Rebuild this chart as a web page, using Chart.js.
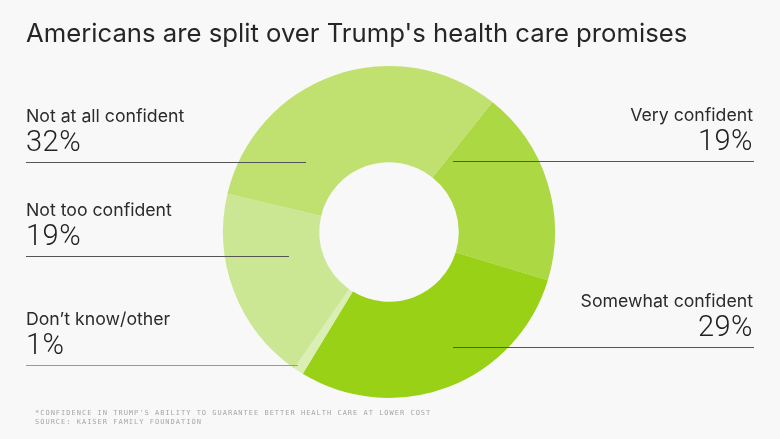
<!DOCTYPE html>
<html>
<head>
<meta charset="utf-8">
<script src="https://cdn.jsdelivr.net/npm/chart.js@4/dist/chart.umd.min.js"></script>
<style>
  html, body { margin: 0; padding: 0; background: #f8f8f8; }
  #wrap { width: 780px; height: 439px; position: relative; }
</style>
</head>
<body>
<div id="wrap"><canvas id="chart" width="780" height="439"></canvas></div>
<script>
// ─── DATOS ────────────────────────────────────────────────────────────────
const titulo = "Americans are split over Trump's health care promises";
const categorias = ["Very confident", "Somewhat confident", "Don’t know/other", "Not too confident", "Not at all confident"];
const porcentajes = [19, 29, 1, 19, 32];
const colores = ["#acd843", "#98d116", "#dbeeb4", "#cce793", "#c0e170"];
const notas = [
  "*CONFIDENCE IN TRUMP'S ABILITY TO GUARANTEE BETTER HEALTH CARE AT LOWER COST",
  "SOURCE: KAISER FAMILY FOUNDATION"
];

// posición de cada rótulo (lado, línea base del nombre, extremo de la línea guía)
const rotulos = [
  { lado: "der", y: 121, fin: 453, linea: "#555" },
  { lado: "der", y: 307, fin: 453, linea: "#555" },
  { lado: "izq", y: 325, fin: 298, linea: "#999" },
  { lado: "izq", y: 216, fin: 289, linea: "#555" },
  { lado: "izq", y: 122, fin: 306, linea: "#555" }
];

// ─── PLUGIN DE TEXTOS ─────────────────────────────────────────────────────
const textos = {
  id: "textos",
  beforeDraw(chart) {
    const ctx = chart.ctx;
    ctx.save();
    ctx.fillStyle = "#f8f8f8";
    ctx.fillRect(0, 0, chart.width, chart.height);
    ctx.restore();
  },
  afterDraw(chart) {
    const ctx = chart.ctx;
    ctx.save();
    ctx.textBaseline = "alphabetic";

    // título
    ctx.fillStyle = "#262626";
    ctx.font = "25.7px Inter, 'Liberation Sans', sans-serif";
    ctx.textAlign = "left";
    ctx.fillText(titulo, 26, 42);

    // rótulos y líneas guía
    categorias.forEach((cat, i) => {
      const r = rotulos[i];
      const izq = r.lado === "izq";
      const x = izq ? 26 : 753;
      ctx.textAlign = izq ? "left" : "right";
      ctx.fillStyle = "#2b2b2b";
      ctx.font = "17.7px Inter, 'Liberation Sans', sans-serif";
      ctx.fillText(cat, x, r.y);
      ctx.font = "300 29px Roboto, 'Liberation Sans', sans-serif";
      ctx.fillStyle = "#222";
      ctx.letterSpacing = "0.5px";
      ctx.fillText(porcentajes[i] + "%", x, r.y + 29);
      ctx.letterSpacing = "0px";

      const ly = Math.round(r.y + 40) + 0.5;
      ctx.strokeStyle = r.linea;
      ctx.lineWidth = 1;
      ctx.beginPath();
      ctx.moveTo(izq ? 26 : r.fin, ly);
      ctx.lineTo(izq ? r.fin : 754, ly);
      ctx.stroke();
    });

    // notas al pie
    ctx.textAlign = "left";
    ctx.fillStyle = "#a6a6a6";
    ctx.font = "7px 'DejaVu Sans Mono', monospace";
    ctx.letterSpacing = "1px";
    notas.forEach((n, i) => ctx.fillText(n, 35, 414.5 + i * 9.5));
    ctx.restore();
  }
};

// ─── GRÁFICO ──────────────────────────────────────────────────────────────
new Chart(document.getElementById("chart"), {
  type: "doughnut",
  data: {
    labels: categorias,
    datasets: [{
      data: porcentajes,
      backgroundColor: colores,
      borderWidth: 0
    }]
  },
  options: {
    responsive: false,
    animation: false,
    rotation: 38.5,
    cutout: "42%",
    layout: { padding: { top: 66, bottom: 41, left: 56, right: 58 } },
    plugins: {
      legend: { display: false },
      tooltip: { enabled: false }
    }
  },
  plugins: [textos]
});
</script>
</body>
</html>
